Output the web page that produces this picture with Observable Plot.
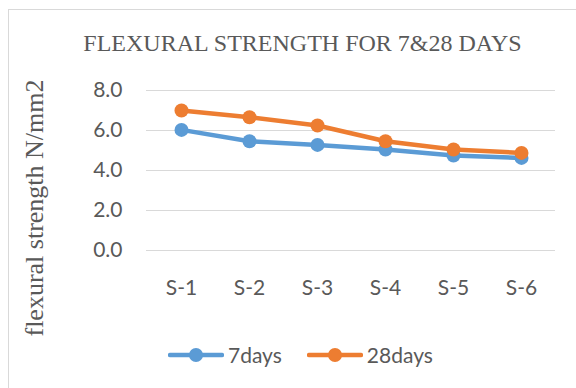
<!DOCTYPE html>
<html>
<head>
<meta charset="utf-8">
<script src="https://cdn.jsdelivr.net/npm/d3@7"></script>
<script src="https://cdn.jsdelivr.net/npm/@observablehq/plot@0.6"></script>
<style>
  html, body { margin: 0; padding: 0; background: #fff; overflow: hidden; }
  #wrap { position: relative; width: 576px; height: 388px; overflow: hidden; background: #fff; }
  #frame { position: absolute; left: 8px; top: 9px; width: 640px; height: 460px; border: 1px solid #d9d9d9; box-sizing: border-box; }
  #title { position: absolute; left: 0; width: 605px; top: 31px; text-align: center; font-family: "Liberation Serif", "Times New Roman", serif; font-size: 24px; color: #595959; white-space: nowrap; line-height: 1; }
  #ylabel { position: absolute; left: 35px; top: 208px; transform: translate(-50%, -50%) rotate(-90deg); font-family: "Liberation Serif", "Times New Roman", serif; font-size: 26px; color: #595959; white-space: nowrap; line-height: 1; }
  #chart { position: absolute; left: 0; top: 0; }
  #legend { position: absolute; left: 168px; top: 344px; display: flex; align-items: center; font-family: Lato, "Liberation Sans", sans-serif; font-size: 21px; color: #595959; line-height: 1; }
  .item { display: flex; align-items: center; }
  .item svg { display: block; margin-right: 4px; }
</style>
</head>
<body>
<div id="wrap">
  <div id="frame"></div>
  <div id="chart"></div>
  <div id="title">FLEXURAL STRENGTH FOR 7&amp;28 DAYS</div>
  <div id="ylabel">flexural strength N/mm2</div>
  <div id="legend"></div>
</div>
<script>
const categories = ["S-1", "S-2", "S-3", "S-4", "S-5", "S-6"];
const days7 = [6.03, 5.46, 5.28, 5.05, 4.75, 4.63];
const days28 = [7.0, 6.66, 6.25, 5.46, 5.05, 4.88];
const seriesNames = ["7days", "28days"];
const seriesColors = ["#5B9BD5", "#ED7D31"];
const yTicks = [0, 2, 4, 6, 8];

const data = [];
categories.forEach((c, i) => {
  data.push({cat: c, series: seriesNames[0], value: days7[i]});
  data.push({cat: c, series: seriesNames[1], value: days28[i]});
});

const chart = Plot.plot({
  width: 576,
  height: 388,
  marginLeft: 146,
  marginRight: 21,
  marginTop: 90,
  marginBottom: 138,
  style: {background: "transparent", fontFamily: "Lato, 'Liberation Sans', sans-serif", fontSize: "21px", color: "#595959"},
  x: {type: "point", domain: categories, padding: 0.5, label: null},
  y: {domain: [0, 8], ticks: yTicks, label: null},
  color: {domain: seriesNames, range: seriesColors},
  marks: [
    Plot.gridY(yTicks, {stroke: "#d9d9d9", strokeOpacity: 1, strokeWidth: 1.2}),
    Plot.axisY(yTicks, {tickSize: 0, tickPadding: 24, tickFormat: d3.format(".1f"), fill: "#595959", fontSize: 21, label: null}),
    Plot.axisX({tickSize: 0, tickPadding: 30, fill: "#595959", fontSize: 21, label: null}),
    Plot.line(data, {x: "cat", y: "value", z: "series", stroke: "series", strokeWidth: 4.5, strokeLinecap: "round", strokeLinejoin: "round"}),
    Plot.dot(data, {x: "cat", y: "value", fill: "series", r: 7, stroke: "none"})
  ]
});
document.getElementById("chart").appendChild(chart);

const legend = document.getElementById("legend");
seriesNames.forEach((name, i) => {
  const item = document.createElement("div");
  item.className = "item";
  if (i > 0) item.style.marginLeft = "25px";
  const sw = d3.create("svg").attr("width", 56).attr("height", 20);
  sw.append("line").attr("x1", 2).attr("x2", 54).attr("y1", 10).attr("y2", 10)
    .attr("stroke", seriesColors[i]).attr("stroke-width", 4.5).attr("stroke-linecap", "round");
  sw.append("circle").attr("cx", 28).attr("cy", 10).attr("r", 7).attr("fill", seriesColors[i]);
  item.appendChild(sw.node());
  const t = document.createElement("span");
  t.textContent = name;
  item.appendChild(t);
  legend.appendChild(item);
});
</script>
</body>
</html>
